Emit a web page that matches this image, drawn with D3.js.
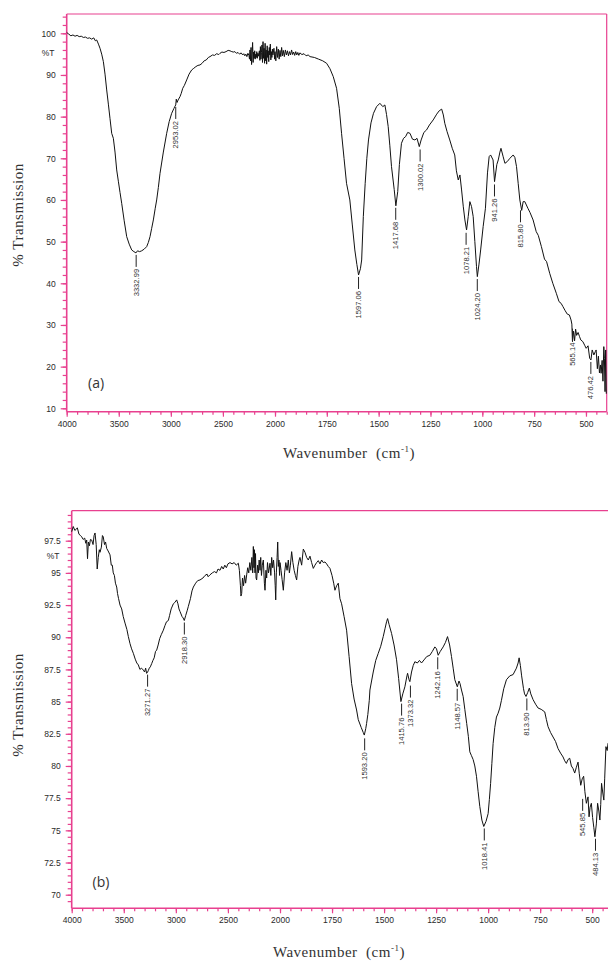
<!DOCTYPE html>
<html><head><meta charset="utf-8">
<script src="https://cdn.jsdelivr.net/npm/d3@7"></script>
<style>html,body{margin:0;padding:0;background:#fff}svg{display:block}</style>
</head><body>
<script>
// ---------- DATA ----------
// Spectrum (a): [wavenumber cm-1, %T]
const specA = [
[4000,100.2],[3980,99.8],[3960,99.4],[3940,99.6],[3920,99.3],[3900,99.5],[3880,99.2],[3860,99.3],[3840,99.0],[3820,99.1],
[3800,98.8],[3780,98.9],[3760,98.6],[3740,98.9],[3725,98.2],[3712,98.4],[3695,97.4],[3680,96.4],[3664,95.0],[3648,93.2],
[3632,90.2],[3616,86.4],[3600,83.0],[3584,79.5],[3568,76.0],[3552,74.8],[3536,71.5],[3520,67.2],[3504,64.5],[3488,61.8],
[3472,59.2],[3448,55.0],[3424,51.2],[3400,49.4],[3376,48.0],[3355,47.6],[3335,47.3],[3320,47.8],[3300,47.6],[3280,47.8],
[3256,48.2],[3232,48.8],[3216,49.8],[3200,51.2],[3184,53.2],[3168,55.2],[3150,58.0],[3136,60.0],[3120,63.0],[3104,66.4],
[3072,71.5],[3040,76.0],[3016,78.8],[2992,80.8],[2970,82.0],[2960,82.5],[2953,82.8],[2948,84.2],[2940,83.4],[2930,84.0],
[2912,84.8],[2900,85.6],[2886,86.8],[2870,87.5],[2848,88.8],[2825,90.2],[2800,91.2],[2780,91.6],[2760,92.0],[2740,92.3],
[2720,92.4],[2700,92.8],[2680,93.4],[2660,93.6],[2640,94.2],[2624,94.4],[2600,94.8],[2580,94.7],[2560,95.1],[2540,94.9],
[2528,95.2],[2510,95.5],[2490,95.4],[2470,95.6],[2450,95.9],[2432,95.8],[2415,95.6],[2400,95.5],[2385,95.6],[2370,95.2],
[2355,95.4],[2340,95.0],[2325,95.3],[2310,94.8],[2300,95.1],[2290,94.6],[2280,95.0],[2270,94.4],[2260,95.2],[2250,94.7],
[2245,93.8],[2240,96.0],[2235,93.4],[2230,96.6],[2225,92.5],[2220,95.0],[2215,97.8],[2210,93.0],[2205,95.5],[2200,94.0],
[2195,95.8],[2190,93.8],[2185,95.0],[2180,94.2],[2175,95.6],[2170,94.0],[2165,95.2],[2160,94.5],[2150,95.8],[2145,93.5],
[2140,96.8],[2135,93.8],[2130,95.4],[2125,97.2],[2120,93.0],[2115,98.0],[2110,94.0],[2105,96.4],[2100,92.8],[2095,97.6],
[2090,93.4],[2085,96.0],[2080,92.6],[2075,97.0],[2070,94.2],[2065,95.8],[2060,93.2],[2055,96.6],[2050,94.8],[2045,97.4],
[2040,93.6],[2035,95.6],[2030,94.2],[2025,96.2],[2020,94.8],[2010,96.4],[2004,93.8],[2000,95.6],[1996,93.4],[1992,96.8],
[1988,94.2],[1984,96.2],[1980,93.8],[1976,95.9],[1972,94.4],[1968,96.6],[1964,94.6],[1960,95.9],[1955,94.4],[1950,96.0],
[1945,94.8],[1940,95.8],[1935,94.6],[1930,95.6],[1925,94.8],[1920,96.0],[1915,94.9],[1910,95.5],[1905,94.7],[1900,95.6],
[1895,94.8],[1890,95.4],[1885,94.7],[1880,95.3],[1870,94.9],[1860,95.1],[1850,94.6],[1840,94.8],[1831,94.4],[1810,94.2],
[1790,93.8],[1770,93.4],
[1751,92.8],[1735,91.5],[1719,89.6],[1703,86.8],[1690,82.0],[1679,76.0],[1667,70.0],[1655,64.0],[1639,60.0],[1627,54.0],
[1615,48.0],[1605,44.5],[1597,42.0],[1588,43.5],[1582,45.6],[1574,56.0],[1565,64.0],[1557,70.0],[1549,74.4],[1537,78.5],
[1525,80.8],[1510,82.4],[1494,83.2],[1480,82.4],[1470,82.8],[1462,80.5],[1454,77.6],[1446,73.0],[1438,68.0],[1425,62.5],
[1417,58.6],[1408,62.0],[1400,68.5],[1390,73.6],[1380,74.8],[1370,75.2],[1360,76.2],[1349,76.0],[1337,74.6],[1325,74.4],
[1315,74.8],[1304,72.8],[1295,74.4],[1282,76.2],[1269,76.8],[1255,78.0],[1237,79.2],[1220,80.6],[1208,81.4],[1196,81.8],
[1188,80.4],[1181,78.4],[1170,76.4],[1157,74.4],[1145,72.4],[1133,70.8],[1125,67.0],[1116,64.8],[1108,66.0],[1100,62.4],
[1092,58.5],[1084,55.2],[1076,52.8],[1068,56.0],[1060,59.6],[1052,58.4],[1044,56.0],[1036,50.0],[1028,44.0],[1024,41.6],
[1016,44.6],[1008,48.0],[996,53.6],[985,58.0],[975,66.5],[967,70.4],[960,70.8],[948,69.6],[941,64.4],[930,68.5],
[923,69.6],[915,71.5],[910,72.4],[900,70.5],[891,68.8],[880,69.2],[867,70.0],[851,70.8],[843,70.2],[835,68.0],
[827,64.0],[819,60.0],[810,57.5],[803,59.6],[795,59.6],[780,58.0],[770,57.0],[755,55.2],[740,52.4],[730,51.5],
[715,48.8],[700,45.8],[690,45.2],[675,42.4],[660,40.0],[643,37.6],[630,35.6],[620,35.2],[611,34.4],[600,33.4],
[590,32.6],[580,32.4],[572,31.2],[568,30.2],[565,26.0],[560,28.5],[555,26.2],[550,29.0],[545,27.5],[538,28.2],
[531,27.2],[525,26.4],[515,26.0],[505,25.0],[499,24.4],[490,25.0],[482,22.0],[476,21.6],[470,24.0],[462,22.8],
[455,23.6],[451,24.0],[445,19.5],[440,22.5],[435,18.5],[430,20.4],[427,18.4],[422,21.5],[418,16.5],[414,24.8],
[411,22.0],[408,14.0],[405,24.0],[402,13.5]
];
// Spectrum (b): [wavenumber cm-1, %T]
const specB = [
[4000,98.2],[3985,98.6],[3970,98.3],[3955,98.4],[3946,98.5],[3930,98.0],[3915,97.9],[3904,97.8],[3890,97.6],[3875,97.7],
[3865,97.3],[3856,97.55],[3848,96.1],[3840,97.4],[3830,97.1],[3820,97.6],[3808,97.55],[3795,97.2],[3785,97.9],[3776,98.1],
[3765,97.2],[3755,95.3],[3745,96.2],[3735,96.8],[3728,96.6],[3715,97.0],[3705,97.9],[3697,97.8],[3685,97.2],[3675,97.4],
[3664,96.9],[3650,96.7],[3632,96.4],[3620,95.6],[3610,95.6],[3601,95.0],[3590,94.8],[3580,94.2],[3568,93.9],[3560,93.4],
[3550,93.0],[3536,92.5],[3520,92.2],[3505,91.6],[3488,91.1],[3470,90.6],[3456,90.05],[3440,89.5],[3425,89.1],[3408,88.75],
[3390,88.3],[3375,88.0],[3360,87.85],[3345,87.5],[3330,87.6],[3312,87.45],[3300,87.3],[3290,87.6],[3281,87.2],[3274,87.25],
[3265,87.4],[3255,87.6],[3245,87.7],[3232,87.95],[3220,88.2],[3208,88.4],[3195,88.9],[3184,89.0],[3170,89.4],[3155,89.9],
[3140,90.2],[3120,90.55],[3105,90.9],[3090,91.2],[3072,91.3],[3060,91.7],[3045,92.2],[3024,92.6],[3010,92.7],[2992,92.9],
[2980,92.6],[2970,92.2],[2960,92.0],[2940,91.6],[2930,91.5],[2919,91.3],[2905,91.7],[2890,92.1],[2880,92.4],[2860,93.0],
[2845,93.6],[2832,93.9],[2810,94.2],[2790,94.4],[2768,94.45],[2740,94.6],[2720,94.8],[2700,94.9],[2690,94.7],[2672,94.85],
[2650,95.0],[2630,95.1],[2610,95.0],[2595,95.3],[2576,95.2],[2560,95.5],[2545,95.3],[2530,95.6],[2515,95.4],[2500,95.7],
[2480,95.8],[2460,95.7],[2440,95.8],[2420,95.6],[2400,95.75],[2390,95.2],[2380,94.0],[2375,93.2],[2368,93.4],[2360,94.6],
[2350,94.0],[2340,94.8],[2330,94.2],[2320,94.85],[2310,95.4],[2300,95.0],[2290,95.8],[2280,95.2],[2270,96.2],[2262,95.0],
[2256,97.05],[2250,95.4],[2245,96.8],[2240,95.0],[2235,96.5],[2230,94.6],[2224,94.45],[2215,95.6],[2208,95.0],[2200,96.0],
[2192,95.2],[2185,96.2],[2178,94.8],[2170,95.6],[2160,96.0],[2150,94.2],[2144,93.65],[2135,95.2],[2128,94.6],[2120,95.8],
[2110,95.0],[2096,95.75],[2088,94.8],[2080,96.2],[2070,95.4],[2062,96.0],[2052,95.0],[2046,94.0],[2041,92.9],[2035,95.0],
[2028,96.2],[2022,97.4],[2016,95.5],[2010,96.0],[2004,94.8],[2000,95.8],[1995,95.2],[1990,94.5],[1984,93.65],[1978,95.0],
[1972,95.8],[1966,95.2],[1960,96.0],[1955,95.0],[1950,95.6],[1944,96.65],[1938,95.8],[1932,95.2],[1926,94.8],[1920,94.45],
[1914,95.5],[1908,96.0],[1904,96.2],[1896,95.6],[1888,96.85],[1880,96.6],[1872,96.2],[1864,96.0],[1856,96.3],[1848,95.8],
[1840,95.35],[1832,95.6],[1824,95.8],[1816,95.95],[1808,95.7],[1800,96.0],[1792,95.8],[1784,95.85],[1776,95.7],[1768,95.5],
[1760,95.35],[1750,94.8],[1742,94.2],[1736,93.65],[1728,94.0],[1720,94.2],[1712,93.0],[1704,92.6],[1692,91.6],[1680,90.55],
[1668,88.5],[1656,86.4],[1644,85.2],[1632,84.35],[1624,83.6],[1610,83.0],[1600,82.6],[1595,82.4],[1588,82.9],[1584,83.3],
[1578,84.0],[1571,85.1],[1568,85.9],[1560,86.6],[1552,87.3],[1540,88.2],[1528,88.75],[1516,89.3],[1504,90.05],[1495,90.7],
[1488,91.2],[1483,91.45],[1476,91.0],[1464,90.3],[1452,89.4],[1440,88.25],[1430,86.8],[1419,85.0],[1410,85.6],[1400,86.15],
[1390,87.0],[1387,87.2],[1380,86.7],[1376,86.55],[1368,87.3],[1360,87.8],[1352,88.1],[1340,88.0],[1330,88.2],[1320,88.0],
[1305,88.3],[1295,88.5],[1280,88.6],[1268,88.9],[1256,89.25],[1248,89.1],[1240,88.6],[1230,88.9],[1216,89.25],[1205,89.6],
[1195,90.05],[1185,89.4],[1176,88.5],[1168,87.6],[1160,86.7],[1148,86.15],[1140,86.6],[1135,86.4],[1128,85.9],[1120,85.4],
[1112,84.4],[1103,83.3],[1095,82.3],[1088,81.1],[1080,80.8],[1072,80.5],[1064,80.0],[1056,79.2],[1048,78.0],[1040,76.85],
[1030,75.8],[1021,75.3],[1010,75.7],[1000,76.3],[994,77.4],[988,78.65],[982,80.2],[976,81.75],[968,83.0],[960,83.8],
[952,84.1],[944,84.5],[936,85.1],[925,86.0],[912,86.7],[896,87.0],[880,87.1],[864,87.6],[856,88.0],[851,88.4],
[845,87.8],[839,87.0],[830,86.0],[825,85.6],[818,85.4],[810,85.7],[802,86.05],[795,85.6],[784,85.15],[772,84.8],
[760,84.5],[745,84.4],[728,84.2],[720,83.6],[712,83.05],[700,82.6],[688,82.25],[676,81.9],[664,81.35],[652,81.0],
[640,80.7],[632,80.4],[624,80.2],[616,80.5],[608,80.6],[600,80.0],[592,79.8],[584,79.45],[576,79.9],[568,80.3],
[562,79.4],[555,78.5],[548,79.0],[541,79.2],[535,78.0],[528,77.1],[520,77.6],[515,76.05],[510,76.8],[504,77.1],
[498,76.0],[492,75.2],[487,74.5],[480,75.5],[474,77.1],[468,76.5],[463,75.8],[459,77.0],[455,78.65],[449,77.9],
[444,77.35],[440,79.0],[434,81.5],[428,81.2],[424,81.75],[415,82.0]
];
// Peak labels: wavenumber, %T where the marker starts
const peakWnA = [3332.99, 2953.02, 1597.06, 1417.68, 1300.02, 1078.21, 1024.20, 941.26, 815.80, 565.14, 476.42];
const peakTA  = [47.3, 82.8, 42.0, 58.6, 72.6, 52.6, 41.5, 64.2, 58.0, 29.6, 21.6];
const peakWnB = [3271.27, 2918.30, 1593.20, 1415.76, 1373.32, 1242.16, 1148.57, 1018.41, 813.90, 545.85, 484.13];
const peakTB  = [87.25, 91.3, 82.3, 85.0, 86.4, 88.6, 86.15, 75.3, 85.4, 77.6, 74.5];
// Axis ticks
const xMajor = [4000, 3500, 3000, 2500, 2000, 1750, 1500, 1250, 1000, 750, 500];
const yMajorA = [10, 20, 30, 40, 50, 60, 70, 80, 90, 100];
const yMajorB = [70, 72.5, 75, 77.5, 80, 82.5, 85, 87.5, 90, 92.5, 95, 97.5];

// ---------- DRAW ----------
const W = 608, H = 961;
const PINK = "#e8408f", TXT = "#2a2a2a";
const svg = d3.select("body").append("svg").attr("width", W).attr("height", H);
svg.append("rect").attr("width", W).attr("height", H).attr("fill", "#fff");

const xMinor = d3.range(4000, 2000, -100).concat(d3.range(2000, 399, -50));

function panel(o) {
  const x = d3.scaleLinear().domain([4000, 2000, 400]).range(o.xr);
  const y = d3.scaleLinear().domain(o.yd).range(o.yr);
  const g = svg.append("g");
  // frame: top and right
  g.append("line").attr("x1", o.left).attr("x2", x(400)).attr("y1", o.top).attr("y2", o.top)
    .attr("stroke", PINK).attr("stroke-width", 1.2);
  g.append("line").attr("x1", x(400)).attr("x2", x(400)).attr("y1", o.top).attr("y2", o.bottom)
    .attr("stroke", PINK).attr("stroke-width", 1.2);

  // x axis
  const xa = g.append("g").attr("transform", `translate(0,${o.bottom})`);
  xa.call(d3.axisBottom(x).tickValues(xMinor).tickSize(3).tickFormat(""));
  xa.select(".domain").remove();
  const xb = g.append("g").attr("transform", `translate(0,${o.bottom})`);
  xb.call(d3.axisBottom(x).tickValues(xMajor).tickSize(5).tickPadding(4).tickFormat(d3.format("d")));
  xb.select(".domain").remove();
  [xa, xb].forEach(s => {
    s.selectAll("line").attr("stroke", PINK).attr("stroke-width", 1.2);
    s.selectAll("text").attr("fill", TXT).attr("font-family", "Liberation Sans, Arial, sans-serif").attr("font-size", 8.5);
  });
  // y axis
  const ya = g.append("g").attr("transform", `translate(${o.left},0)`);
  ya.call(d3.axisLeft(y).tickValues(o.yMinor).tickSize(4).tickFormat(""));
  ya.select(".domain").remove();
  const yb = g.append("g").attr("transform", `translate(${o.left},0)`);
  yb.call(d3.axisLeft(y).tickValues(o.yMajor).tickSize(6).tickPadding(5).tickFormat(o.yFmt));
  yb.select(".domain").remove();
  [ya, yb].forEach(s => {
    s.selectAll("line").attr("stroke", PINK).attr("stroke-width", 1.2);
    s.selectAll("text").attr("fill", TXT).attr("font-family", "Liberation Sans, Arial, sans-serif").attr("font-size", 8.5);
  });
  // axis lines
  g.append("line").attr("x1", o.left).attr("x2", x(400)).attr("y1", o.bottom).attr("y2", o.bottom)
    .attr("stroke", PINK).attr("stroke-width", 1.6);
  g.append("line").attr("x1", o.left).attr("x2", o.left).attr("y1", o.top).attr("y2", o.bottom)
    .attr("stroke", PINK).attr("stroke-width", 1.6);

  // spectrum
  const line = d3.line().x(d => x(d[0])).y(d => y(d[1]));
  g.append("path").datum(o.spec).attr("d", line).attr("fill", "none")
    .attr("stroke", "#111").attr("stroke-width", 1).attr("stroke-linejoin", "round");

  // peak labels
  o.pw.forEach((w, i) => {
    const px = x(w), py = y(o.pt[i]);
    g.append("line").attr("x1", px).attr("x2", px).attr("y1", py + 2).attr("y2", py + 14)
      .attr("stroke", "#222").attr("stroke-width", 1);
    g.append("text").attr("transform", `translate(${px + 2.6},${py + 16}) rotate(-90)`)
      .attr("text-anchor", "end").attr("font-family", "Liberation Sans, Arial, sans-serif")
      .attr("font-size", 7.6).attr("fill", "#333").text(w.toFixed(2));
  });

  // %T
  g.append("text").attr("x", o.pctX).attr("y", y(o.pctT) + 3).attr("text-anchor", "middle")
    .attr("font-family", "Liberation Sans, Arial, sans-serif").attr("font-size", 8.5).attr("fill", TXT).text("%T");
  // panel tag
  g.append("text").attr("x", o.tagX).attr("y", o.tagY).attr("font-family", "Open Sans, sans-serif")
    .attr("font-size", 14).attr("fill", "#333").text(o.tag);
  // y title
  g.append("text").attr("transform", `translate(${o.ytX},${o.ytY}) rotate(-90)`).attr("text-anchor", "middle")
    .attr("font-family", "Liberation Serif, Times New Roman, serif").attr("font-size", 15)
    .attr("letter-spacing", 0.5).attr("fill", "#333").text("% Transmission");
  // x title
  const xt = g.append("text").attr("x", o.xtX).attr("y", o.xtY)
    .attr("font-family", "Liberation Serif, Times New Roman, serif").attr("font-size", 15)
    .attr("letter-spacing", 0.5).attr("fill", "#333");
  xt.append("tspan").text("Wavenumber\u00a0\u00a0(cm");
  xt.append("tspan").attr("font-size", 9).attr("dy", -6).text("-1");
  xt.append("tspan").attr("dy", 6).text(")");
}

panel({
  spec: specA, xr: [66.7, 275, 606.7], yd: [10, 100], yr: [408.3, 33.3],
  top: 14, bottom: 411.7, left: 66.7,
  yMajor: yMajorA, yMinor: d3.range(10, 105, 2), yFmt: d3.format("d"),
  pw: peakWnA, pt: peakTA, pctX: 48, pctT: 95.2,
  tag: "(a)", tagX: 88, tagY: 387.5, ytX: 23, ytY: 215, xtX: 283, xtY: 458
});
panel({
  spec: specB, xr: [71.7, 280, 613], yd: [70, 97.5], yr: [894.7, 540.7],
  top: 510.7, bottom: 908.3, left: 71.7,
  yMajor: yMajorB, yMinor: d3.range(69.5, 100, 0.5), yFmt: d => (d % 1 ? d3.format(".1f")(d) : d3.format("d")(d)),
  pw: peakWnB, pt: peakTB, pctX: 53, pctT: 96.3,
  tag: "(b)", tagX: 92.5, tagY: 886.5, ytX: 23, ytY: 705, xtX: 273, xtY: 956.5
});
</script>
</body></html>
